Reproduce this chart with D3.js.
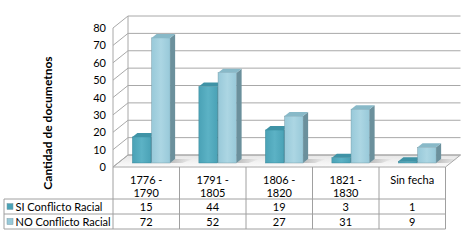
<!DOCTYPE html>
<html><head><meta charset="utf-8">
<script src="https://cdn.jsdelivr.net/npm/d3@7"></script>
<style>body{margin:0;background:#fff}svg{display:block}text{font-family:Lato,"Open Sans",sans-serif;fill:#000}</style>
</head><body><svg id="c" width="467" height="241"></svg>
<script>
const categories = [["1776 -","1790"],["1791 -","1805"],["1806 -","1820"],["1821 -","1830"],["Sin fecha"]];
const seriesNames = ["SI Conflicto Racial","NO Conflicto Racial"];
const siValues = [15,44,19,3,1];
const noValues = [72,52,27,31,9];
const yTicks = [0,10,20,30,40,50,60,70,80];
const yTitle = "Cantidad de documetnos";

const series = [siValues, noValues];
const colors = [
  {front:"#4aa2b6", light:"#5cb2c5", side:"#2f7f92", top:"#3f93a6", key:"#4aa2b6"},
  {front:"#98c9d9", light:"#acd6e3", side:"#6b909c", top:"#88b9c8", key:"#98c9d9"}
];

const svg = d3.select("#c");
const defs = svg.append("defs");
const x0=113, x1=445.5, yTop=28, yBot=167;
const DX=15, DY=-12;
const x = d3.scaleBand().domain(d3.range(categories.length)).range([x0,x1]);
const w = x.bandwidth();
const xb = d3.scaleBand().domain([0,1]).range([0,w]).paddingInner(0.03).paddingOuter(0.75);
const y = d3.scaleLinear().domain([0,80]).range([yBot,yTop]);
const grid = "#a8a8a8";

// floor
const fg = defs.append("linearGradient").attr("id","floor").attr("x1",0).attr("y1",0).attr("x2",0).attr("y2",1);
fg.append("stop").attr("offset","0").attr("stop-color","#e6e6e6");
fg.append("stop").attr("offset","1").attr("stop-color","#fbfbfb");
svg.append("polygon")
  .attr("points",[[x0,yBot],[x0+DX,yBot+DY],[x1+DX,yBot+DY],[x1,yBot]].map(p=>p.join(",")).join(" "))
  .attr("fill","url(#floor)").attr("stroke",grid).attr("stroke-width",1);

// walls gridlines
yTicks.forEach(v=>{
  const yy=y(v);
  svg.append("path").attr("d",`M${x0},${yy}L${x0+DX},${yy+DY}L${x1+DX},${yy+DY}`)
    .attr("fill","none").attr("stroke",grid).attr("stroke-width",1);
});
svg.append("line").attr("x1",x0).attr("x2",x0).attr("y1",y(80)).attr("y2",y(0)).attr("stroke",grid);
svg.append("line").attr("x1",x0+DX).attr("x2",x0+DX).attr("y1",y(80)+DY).attr("y2",y(0)+DY).attr("stroke",grid);

// tick labels
svg.append("g").selectAll("text").data(yTicks).join("text")
  .attr("x",106).attr("y",d=>y(d)+4).attr("text-anchor","end").attr("font-size",11).text(d=>d);

// shadows
const sh = defs.append("linearGradient").attr("id","shadow").attr("x1",0).attr("y1",0).attr("x2",1).attr("y2",0);
sh.append("stop").attr("offset","0").attr("stop-color","#999").attr("stop-opacity",0.6);
sh.append("stop").attr("offset","1").attr("stop-color","#999").attr("stop-opacity",0);

// bars
const sx=DX/3, sy=DY/3;
colors.forEach((c,s)=>{
  const g = defs.append("linearGradient").attr("id","fr"+s).attr("x1",0).attr("y1",0).attr("x2",1).attr("y2",0);
  g.append("stop").attr("offset","0").attr("stop-color",c.front);
  g.append("stop").attr("offset","0.5").attr("stop-color",c.light);
  g.append("stop").attr("offset","1").attr("stop-color",c.front);
});
categories.forEach((cat,i)=>{
  series.forEach((vals,s)=>{
    const v = vals[i];
    const bx = x(i)+xb(s)+sx, bw = xb.bandwidth();
    const yb = y(0)+sy, yt = y(v)+sy;
    const c = colors[s];
    if(s===1){
      svg.append("polygon").attr("points",[[bx+bw,yb],[bx+bw+sx,yb+sy],[bx+bw+sx+18,yb+sy],[bx+bw+12,yb]].map(p=>p.join(",")).join(" "))
        .attr("fill","url(#shadow)");
    }
    svg.append("rect").attr("x",bx).attr("y",yt).attr("width",bw).attr("height",yb-yt)
      .attr("fill","url(#fr"+s+")").attr("stroke",c.side).attr("stroke-width",0.4);
    svg.append("polygon").attr("points",[[bx+bw,yt],[bx+bw+sx,yt+sy],[bx+bw+sx,yb+sy],[bx+bw,yb]].map(p=>p.join(",")).join(" "))
      .attr("fill",c.side);
    svg.append("polygon").attr("points",[[bx,yt],[bx+sx,yt+sy],[bx+bw+sx,yt+sy],[bx+bw,yt]].map(p=>p.join(",")).join(" "))
      .attr("fill",c.top);
  });
});

// axis title
svg.append("text").attr("transform","translate(52,123) rotate(-90)").attr("text-anchor","middle")
  .attr("font-size",12).attr("font-weight","bold").text(yTitle);

// table
const tl = "#a0a0a0";
const rowY=[199,214,229], leftX=4;
d3.range(categories.length+1).forEach(i=>{
  const xx = x0 + i*w;
  svg.append("line").attr("x1",xx).attr("x2",xx).attr("y1",yBot).attr("y2",229).attr("stroke",tl);
});
rowY.forEach(yy=>svg.append("line").attr("x1",leftX).attr("x2",x1).attr("y1",yy).attr("y2",yy).attr("stroke",tl));
svg.append("line").attr("x1",leftX).attr("x2",leftX).attr("y1",199).attr("y2",229).attr("stroke",tl);

categories.forEach((cat,i)=>{
  cat.forEach((line,k)=>{
    svg.append("text").attr("x",x(i)+w/2).attr("y",184+k*13).attr("text-anchor","middle").attr("font-size",11).text(line);
  });
  series.forEach((vals,s)=>{
    svg.append("text").attr("x",x(i)+w/2).attr("y",210.5+s*15).attr("text-anchor","middle").attr("font-size",11).text(vals[i]);
  });
});
seriesNames.forEach((n,s)=>{
  svg.append("rect").attr("x",7).attr("y",203.5+s*15).attr("width",6).attr("height",6).attr("fill",colors[s].key).attr("stroke","#7a9aa5").attr("stroke-width",0.5);
  svg.append("text").attr("x",15.5).attr("y",210.5+s*15).attr("font-size",11).text(n);
});
</script></body></html>
